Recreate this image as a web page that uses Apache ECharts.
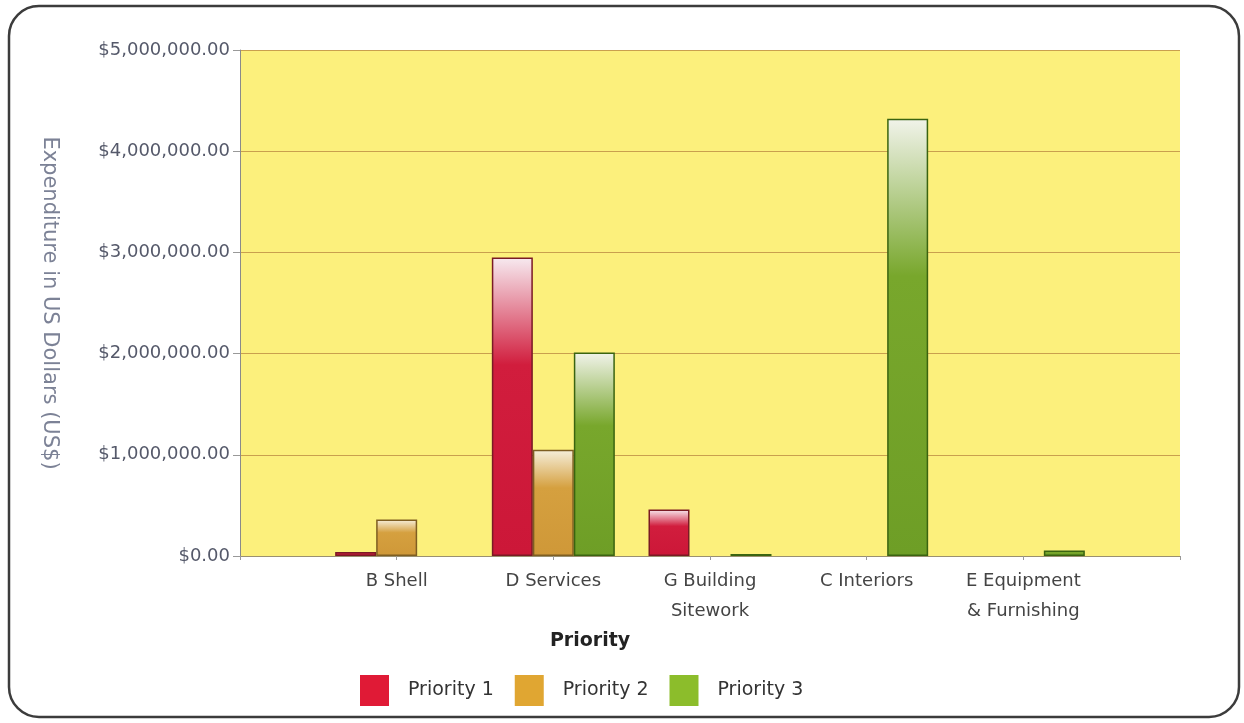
<!DOCTYPE html>
<html>
<head>
<meta charset="utf-8">
<script src="https://cdn.jsdelivr.net/npm/echarts@6/dist/echarts.min.js"></script>
<style>
html,body{margin:0;padding:0;background:#fff;}
#c{width:1244px;height:723px;}
</style>
</head>
<body>
<div id="c"></div>
<script>
// Categories (empty slots at both ends: the original places groups on band boundaries)
var categories = ['', 'B Shell', 'D Services', 'G Building\nSitework', 'C Interiors', 'E Equipment\n& Furnishing', ''];
var seriesNames = ['Priority 1', 'Priority 2', 'Priority 3'];
var priority1 = [null, 40000, 2950000, 460000, null, null, null];
var priority2 = [null, 360000, 1050000, null, null, null, null];
var priority3 = [null, null, 2010000, 20000, 4320000, 55000, null];
var yTicks = [0, 1000000, 2000000, 3000000, 4000000, 5000000];

function money(v) {
  var s = Math.round(v).toString().replace(/\B(?=(\d{3})+(?!\d))/g, ',');
  return '$' + s + '.00';
}
function grad(top, mid, bot) {
  return new echarts.graphic.LinearGradient(0, 0, 0, 1, [
    {offset: 0, color: top},
    {offset: 0.36, color: mid},
    {offset: 1, color: bot}
  ]);
}
var styles = [
  {fill: grad('#f7eaf0', '#d11d3d', '#cc1738'), border: '#7a1a25', legend: '#e01a36'},
  {fill: grad('#f6efdc', '#d5a03f', '#cf9838'), border: '#7e5e22', legend: '#e0a632'},
  {fill: grad('#f1f3ea', '#78a72c', '#6e9e26'), border: '#3a6410', legend: '#8cbd2b'}
];
var dataSets = [priority1, priority2, priority3];

var chart = echarts.init(document.getElementById('c'));
var series = seriesNames.map(function (n, i) {
  return {
    name: n,
    type: 'bar',
    data: dataSets[i],
    barWidth: 41,
    barGap: '0%',
    itemStyle: {color: styles[i].fill, borderColor: styles[i].border, borderWidth: 1.5},
    emphasis: {disabled: true}
  };
});

chart.setOption({
  animation: false,
  backgroundColor: '#ffffff',
  textStyle: {fontFamily: 'DejaVu Sans'},
  color: styles.map(function (s) { return s.legend; }),
  graphic: [{
    type: 'rect',
    shape: {x: 9, y: 6, width: 1230, height: 711, r: 30},
    style: {fill: 'none', stroke: '#3c3c3c', lineWidth: 2.5},
    silent: true
  }],
  grid: {left: 240, right: 64, top: 50, bottom: 167, show: true, backgroundColor: '#fcf07c', borderWidth: 0},
  legend: {
    data: seriesNames.map(function (n, i) {
      return {name: n, itemStyle: {color: styles[i].legend, borderWidth: 0}};
    }),
    left: 355,
    top: 670,
    itemWidth: 29,
    itemHeight: 31,
    itemGap: 21,
    icon: 'rect',
    textStyle: {fontSize: 19, color: '#333', fontFamily: 'DejaVu Sans', padding: [0, 0, 0, 14]},
    selectedMode: false
  },
  xAxis: {
    type: 'category',
    data: categories,
    boundaryGap: false,
    name: 'Priority',
    nameLocation: 'middle',
    nameGap: 76,
    nameTextStyle: {fontSize: 19, fontWeight: 'bold', color: '#222', fontFamily: 'DejaVu Sans', padding: [0, 240, 0, 0]},
    axisLine: {lineStyle: {color: '#9a9070', width: 1}},
    axisTick: {show: true, length: 4, alignWithLabel: true, lineStyle: {color: '#999'}},
    axisLabel: {fontSize: 18, color: '#444', lineHeight: 30, margin: 10, interval: 0, fontFamily: 'DejaVu Sans'},
    splitLine: {show: false}
  },
  yAxis: {
    type: 'value',
    min: 0,
    max: 5000000,
    interval: 1000000,
    name: 'Expenditure in US Dollars (US$)',
    nameLocation: 'middle',
    nameRotate: -90,
    nameGap: 180,
    nameTextStyle: {fontSize: 21, color: '#7c8296', fontFamily: 'DejaVu Sans'},
    axisLine: {show: true, lineStyle: {color: '#8a8a8a', width: 1}},
    axisTick: {show: true, length: 7, lineStyle: {color: '#999'}},
    axisLabel: {fontSize: 18, color: '#55596a', margin: 10, fontFamily: 'DejaVu Sans',
      formatter: function (v) { return money(v); }},
    splitLine: {show: true, lineStyle: {color: '#c9a04e', width: 1.2}}
  },
  series: series
});
</script>
</body>
</html>
